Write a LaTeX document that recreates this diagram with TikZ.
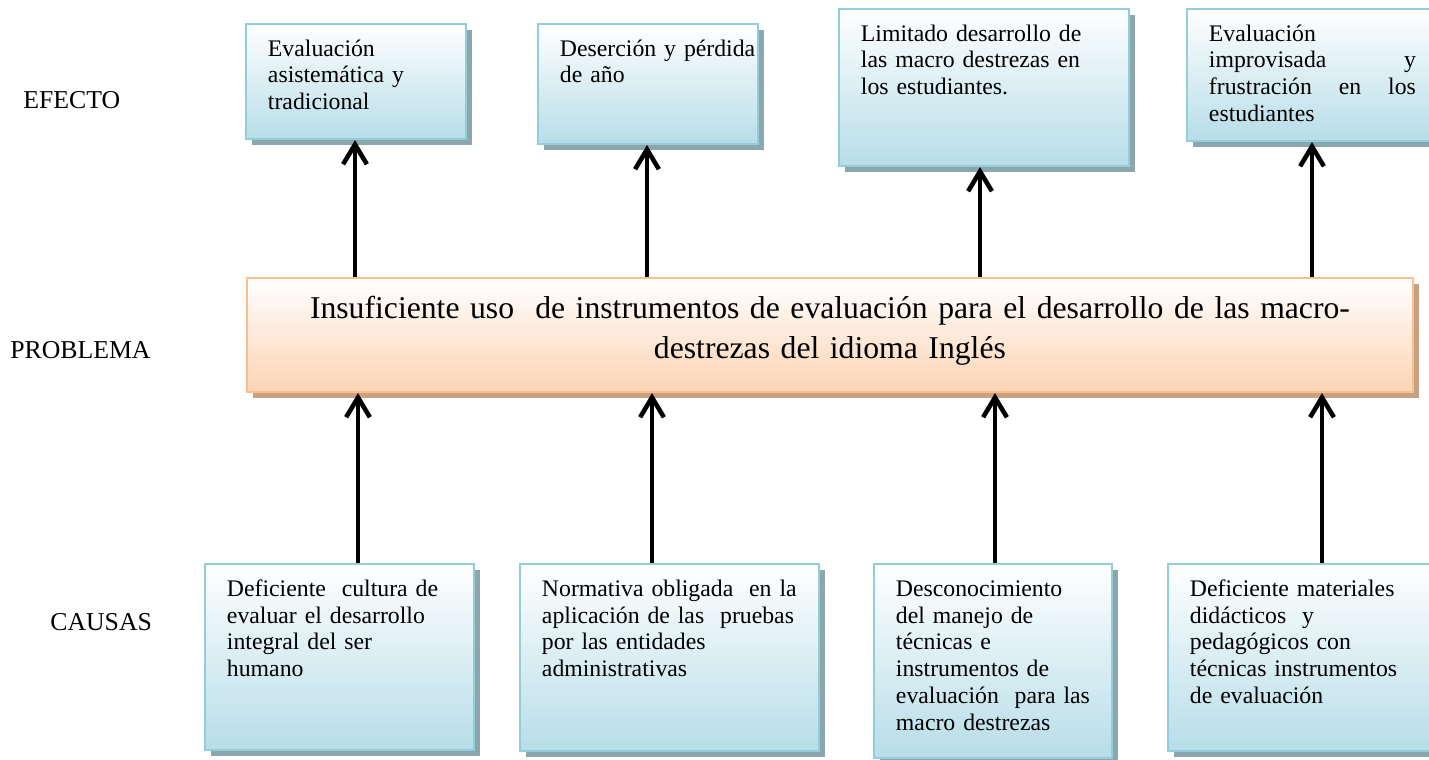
\documentclass[tikz,border=0pt]{standalone}
\usepackage{fontspec}
\setmainfont{Liberation Serif}
\usepackage{xcolor}
\usetikzlibrary{arrows.meta, positioning, shadows}
\definecolor{atBlue}{RGB}{183,221,232}
\definecolor{atBlueLine}{RGB}{146,205,220}
\definecolor{atBlueShade}{RGB}{140,166,174}
\definecolor{atPeach}{RGB}{251,212,180}
\definecolor{atPeachLine}{RGB}{250,192,143}
\definecolor{atPeachShade}{RGB}{200,160,130}

\begin{document}
\begin{tikzpicture}[x=0.505pt, y=-0.505pt,
    boxbase/.style={line width=1pt, top color=white, anchor=north west, inner xsep=11.1pt, inner ysep=6.5pt},
    cell/.style={boxbase, draw=atBlueLine, bottom color=atBlue, align=left,
      drop shadow={shadow xshift=3pt, shadow yshift=-3pt, fill=atBlueShade, opacity=1},
      text height=9.7pt, font=\fontsize{12}{13.6}\selectfont},
    probbox/.style={boxbase, draw=atPeachLine, bottom color=atPeach, align=center,
      drop shadow={shadow xshift=3pt, shadow yshift=-3pt, fill=atPeachShade, opacity=1},
      text height=14.2pt, font=\fontsize{16}{20}\selectfont},
    lvl/.style={anchor=west, inner sep=0pt, font=\fontsize{13}{15}\selectfont},
    arr/.style={-{Straight Barb[length=10pt, width=12pt]}, line width=2.3pt, black}
  ]
    \useasboundingbox (0,0) rectangle (1429,760);
    \clip (0,0) rectangle (1429,760);

    \node[lvl] (efecto) at (23,100) {EFECTO};
    \node[lvl] (problema) at (10,350) {PROBLEMA};
    \node[lvl] (causas) at (50,622) {CAUSAS};

    \node[cell, text width=88.9pt, text depth=35.4pt] (e1) at (245,23) {Evaluación\\asistemática y\\tradicional};
    \node[cell, text width=88.9pt, text depth=37.9pt] (e2) at (537,23) {\mbox{Deserción y pérdida}\\de año};
    \node[cell, text width=124.3pt, text depth=56.6pt] (e3) at (838,8) {Limitado desarrollo de\\las macro destrezas en\\los estudiantes.};
    \node[cell, text width=104.5pt, text depth=44pt] (e4) at (1186,8) {Evaluación\\improvisada\hfill y\\frustración\hfill en\hfill los\\estudiantes};

    \node[probbox, text width=566.6pt, text depth=30.4pt] (pb) at (246,277)
      {Insuficiente uso\ \ de instrumentos de evaluación para el desarrollo de las macro-\\destrezas del idioma Inglés};

    \node[cell, text width=113.6pt, text depth=71.2pt] (c1) at (204,563) {Deficiente\ \ cultura de\\evaluar el desarrollo\\integral del ser\\humano};
    \node[cell, text width=128.8pt, text depth=71.7pt] (c2) at (519,563) {Normativa obligada\ \ en la\\aplicación de las\ \ pruebas\\por las entidades\\administrativas};
    \node[cell, text width=98pt, text depth=75.3pt] (c3) at (873,563) {Desconocimiento\\del manejo de\\técnicas e\\instrumentos de\\evaluación\ \ para las\\macro destrezas};
    \node[cell, text width=119.2pt, text depth=71.7pt] (c4) at (1167,563) {Deficiente materiales\\didácticos\ \ y\\pedagógicos con\\técnicas instrumentos\\de evaluación};

    \coordinate (up1) at (355,0);
    \coordinate (up2) at (647,0);
    \coordinate (up3) at (980,0);
    \coordinate (up4) at (1312,0);
    \coordinate (dn1) at (358,0);
    \coordinate (dn2) at (652,0);
    \coordinate (dn3) at (995,0);
    \coordinate (dn4) at (1322,0);

    \draw[arr] (up1 |- pb.north) -- (up1 |- e1.south);
    \draw[arr] (up2 |- pb.north) -- (up2 |- e2.south);
    \draw[arr] (up3 |- pb.north) -- (up3 |- e3.south);
    \draw[arr] (up4 |- pb.north) -- (up4 |- e4.south);
    \draw[arr] (dn1 |- c1.north) -- (dn1 |- pb.south);
    \draw[arr] (dn2 |- c2.north) -- (dn2 |- pb.south);
    \draw[arr] (dn3 |- c3.north) -- (dn3 |- pb.south);
    \draw[arr] (dn4 |- c4.north) -- (dn4 |- pb.south);
  \end{tikzpicture}
\end{document}
